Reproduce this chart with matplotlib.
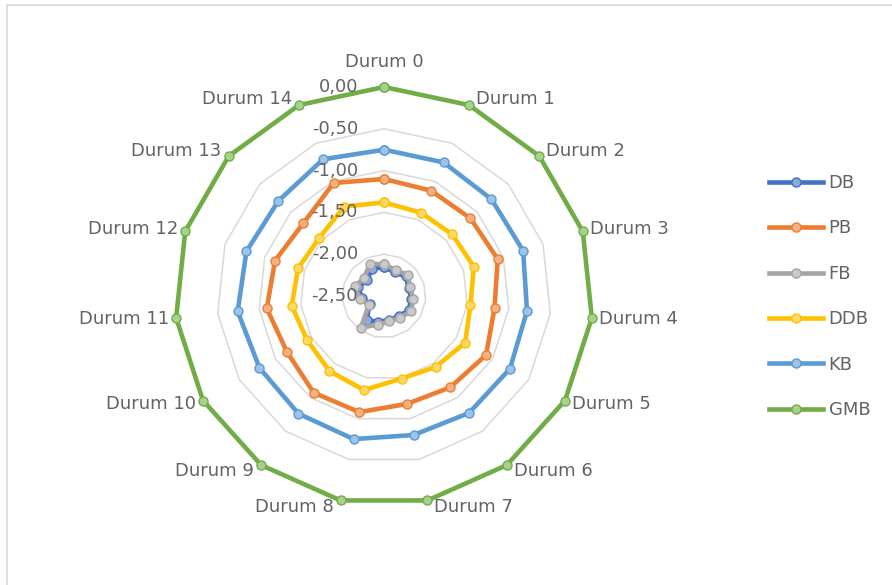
import numpy as np
import matplotlib
matplotlib.use("Agg")
import matplotlib.pyplot as plt
from matplotlib.lines import Line2D

# Categories and series values
categories = [f"Durum {i}" for i in range(15)]

db  = [-2.15, -2.19, -2.15, -2.19, -2.17, -2.16, -2.20, -2.21, -2.18, -2.15, -2.30, -2.24, -2.17, -2.22, -2.15]
pb  = [-1.10, -1.12, -1.11, -1.07, -1.17, -1.09, -1.15, -1.18, -1.08, -1.07, -1.16, -1.09, -1.13, -1.20, -1.02]
fb  = [-2.12, -2.16, -2.12, -2.17, -2.15, -2.13, -2.18, -2.19, -2.15, -2.03, -2.29, -2.21, -2.13, -2.18, -2.08]
ddb = [-1.38, -1.41, -1.40, -1.37, -1.46, -1.38, -1.45, -1.49, -1.35, -1.39, -1.44, -1.39, -1.42, -1.46, -1.33]
kb  = [-0.75, -0.75, -0.77, -0.75, -0.78, -0.76, -0.77, -0.80, -0.75, -0.76, -0.78, -0.74, -0.77, -0.80, -0.71]
gmb = [0.00] * 15

series_names = ["DB", "PB", "FB", "DDB", "KB", "GMB"]
series_values = [db, pb, fb, ddb, kb, gmb]

radial_ticks = [0.0, -0.5, -1.0, -1.5, -2.0, -2.5]
radial_labels = ["0,00", "-0,50", "-1,00", "-1,50", "-2,00", "-2,50"]

line_colors = ["#4472C4", "#ED7D31", "#A5A5A5", "#FFC000", "#5B9BD5", "#70AD47"]
face_colors = ["#8FAADC", "#F4B183", "#C9C9C9", "#FFD966", "#9DC3E6", "#A9D18E"]
text_color = "#636363"
grid_color = "#D9D9D9"

W, H = 892, 585
fig = plt.figure(figsize=(W / 100, H / 100), dpi=100)
fig.patch.set_facecolor("white")

# Chart frame
fig.add_artist(Line2D([7 / W, 7 / W], [0, 1 - 5 / H], transform=fig.transFigure,
                      color="#D9D9D9", lw=1.2))
fig.add_artist(Line2D([7 / W, 1], [1 - 5 / H, 1 - 5 / H], transform=fig.transFigure,
                      color="#D9D9D9", lw=1.2))

cx, cy, R = 384, 296, 209
ax = fig.add_axes([(cx - R) / W, 1 - (cy + R) / H, 2 * R / W, 2 * R / H], projection="polar")
ax.set_theta_zero_location("N")
ax.set_theta_direction(-1)
ax.set_ylim(-2.5, 0)
ax.grid(False)
ax.set_xticks([])
ax.set_yticks([])
ax.spines["polar"].set_visible(False)
ax.patch.set_alpha(0)

n = len(categories)
theta = np.arange(n) * 2 * np.pi / n
theta_closed = np.append(theta, theta[0])

# Polygonal gridlines
for v in radial_ticks[:-1]:
    ax.plot(theta_closed, [v] * (n + 1), color=grid_color, lw=1.1, zorder=1, clip_on=False)

# Series
handles = []
for i, (name, vals) in enumerate(zip(series_names, series_values)):
    vals_closed = list(vals) + [vals[0]]
    ln, = ax.plot(theta_closed, vals_closed, color=line_colors[i], lw=3.3,
                  marker="o", markersize=6.5, markerfacecolor=face_colors[i],
                  markeredgecolor=line_colors[i], markeredgewidth=1.0,
                  zorder=3 + i, clip_on=False, label=name, solid_joinstyle="round")
    handles.append(ln)

# Radial value labels
for v, lab in zip(radial_ticks, radial_labels):
    ax.annotate(lab, xy=(0, v), xytext=(-26, 0), textcoords="offset pixels",
                ha="right", va="center", fontsize=13, color=text_color, zorder=20,
                annotation_clip=False)

# Category labels
for k, (t, lab) in enumerate(zip(theta, categories)):
    s, c = np.sin(t), np.cos(t)
    if abs(s) < 0.05:
        ha, dx, dy = "center", 0, 25
    else:
        ha = "left" if s > 0 else "right"
        dx = 7 if s > 0 else -7
        dy = 7 * c
    ax.annotate(lab, xy=(t, 0), xytext=(dx, dy), textcoords="offset pixels",
                ha=ha, va="center", fontsize=13, color=text_color, zorder=20,
                annotation_clip=False)

leg = fig.legend(handles=handles, loc="upper left", bbox_to_anchor=(760 / W, 1 - 165 / H),
                 frameon=False, fontsize=13, labelcolor=text_color,
                 handlelength=3.0, handletextpad=0.3, labelspacing=1.52, borderpad=0)

fig.savefig("out.png", dpi=100, facecolor="white")
